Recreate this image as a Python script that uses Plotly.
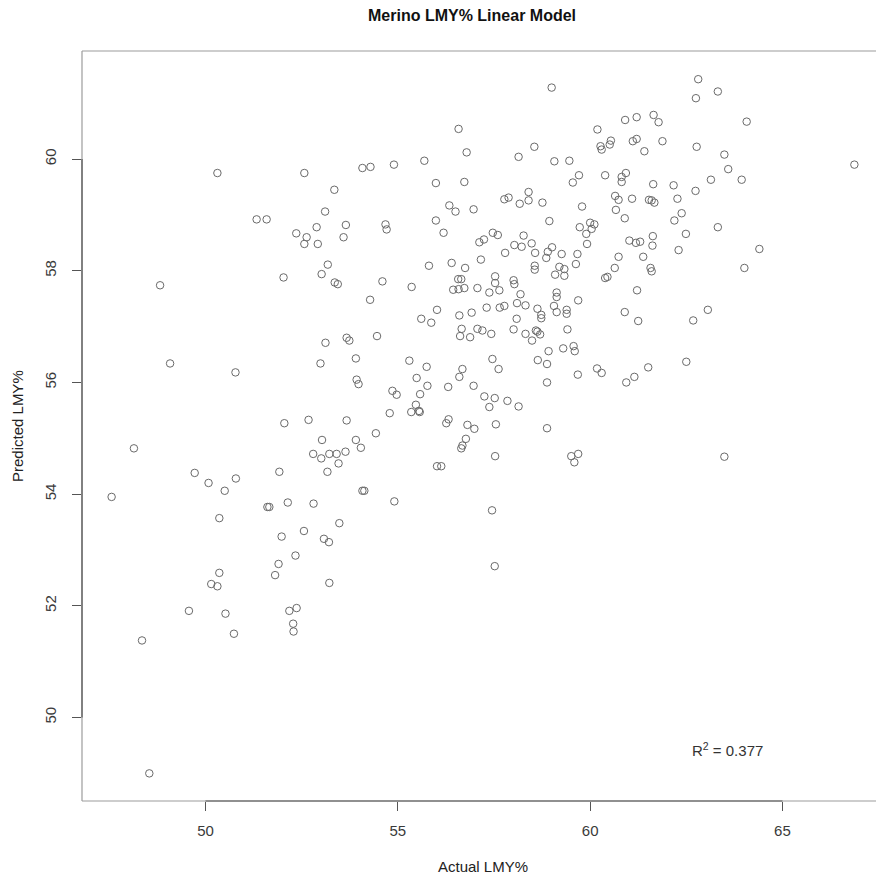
import plotly.graph_objects as go

# ---- data ----
actual_lmy = [
    50.31, 52.57, 53.35, 53.11, 51.33, 51.59, 52.89, 52.36, 52.63, 52.57,
    52.92, 53.18, 53.02, 52.03, 48.82, 53.36, 53.44, 53.65, 53.59, 59.00,
    56.58, 60.19, 58.55, 60.27, 60.30, 58.14, 59.07, 59.46, 54.08, 54.29,
    54.90, 55.69, 56.79, 59.71, 59.55, 55.99, 56.73, 57.77, 57.88, 58.40,
    58.40, 58.17, 58.76, 56.34, 56.50, 56.97, 59.79, 58.94, 55.99, 54.68,
    54.71, 56.19, 60.00, 60.11, 59.73, 60.04, 59.90, 59.92, 57.47, 57.60,
    57.12, 57.24, 58.27, 58.03, 58.22, 58.48, 58.57, 57.79, 57.16, 59.01,
    58.90, 58.86, 59.26, 59.67, 59.63, 55.81, 56.40, 56.75, 58.56, 58.56,
    59.20, 59.33, 59.09, 59.33, 54.60, 55.36, 56.57, 56.65, 57.53, 57.53,
    58.01, 58.03, 56.44, 56.58, 56.73, 57.07, 57.38, 57.64, 58.19, 59.13,
    59.13, 54.28, 59.69,
    62.81, 63.32, 62.75, 64.07, 60.91, 61.21, 61.65, 61.78, 60.54, 60.51,
    61.11, 61.21, 61.88, 61.41, 62.77, 63.49, 63.59, 66.87, 60.39, 60.93,
    60.82, 60.82, 61.64, 62.17, 63.14, 63.94, 62.74, 60.65, 60.74, 61.09,
    61.53, 61.60, 61.67, 62.27, 60.67, 60.90, 62.38, 62.19, 63.32, 62.49,
    61.63, 61.02, 61.19, 61.30, 61.62, 62.30, 64.40, 60.74, 61.38, 60.64,
    61.57, 61.60, 64.01, 60.39, 60.45, 61.22,
    53.12, 49.08, 52.99, 50.78, 52.05, 52.68, 53.67, 53.03, 52.80, 53.01,
    53.22, 53.41, 53.46, 53.17, 51.92, 48.14, 49.72, 50.08, 50.79, 50.50,
    47.56, 51.61, 51.66, 52.14, 52.81, 50.36, 53.48, 52.56, 51.98, 53.08, 53.21,
    56.02, 55.61, 55.87, 56.60, 56.92, 57.31, 57.65, 57.77, 58.10, 58.32,
    58.63, 58.73, 58.73, 59.06, 59.13, 59.39, 59.39, 58.09, 56.66, 56.62,
    56.88, 57.07, 57.20, 57.43, 58.01, 58.32, 58.59, 58.63, 58.70, 58.49,
    59.41, 53.67, 53.74, 54.46, 53.91, 55.30, 55.75, 57.46, 57.62, 56.68,
    56.60, 58.92, 59.30, 59.57, 59.60, 58.64, 58.88, 59.68, 60.18, 60.30,
    58.88, 53.93, 53.98, 55.49, 55.77, 56.31, 56.97, 54.86, 54.97, 55.58,
    57.25, 57.52, 57.85, 58.14, 57.38, 55.47, 55.35, 55.55, 55.57, 54.79,
    56.32, 56.26, 56.81, 56.99, 57.55, 58.88, 54.43, 53.91, 54.04, 53.64,
    56.77, 56.68, 56.65, 57.53, 59.51, 59.69, 59.59, 56.02, 56.13, 54.08,
    54.13, 54.91, 57.45,
    60.90, 61.25, 62.68, 63.06, 62.50, 61.51, 61.15, 60.94, 63.49,
    52.34, 51.90, 51.81, 50.36, 50.15, 50.31, 53.22, 49.57, 50.52, 52.18,
    52.37, 52.28, 52.29, 50.74, 48.35, 48.54,
    57.52,
]

predicted_lmy = [
    59.75, 59.75, 59.45, 59.06, 58.92, 58.92, 58.78, 58.67, 58.60, 58.48,
    58.48, 58.11, 57.94, 57.88, 57.74, 57.79, 57.76, 58.82, 58.60, 61.28,
    60.54, 60.53, 60.22, 60.23, 60.17, 60.04, 59.96, 59.97, 59.84, 59.86,
    59.90, 59.97, 60.12, 59.71, 59.58, 59.57, 59.59, 59.28, 59.31, 59.41,
    59.26, 59.20, 59.22, 59.17, 59.06, 59.10, 59.15, 58.89, 58.90, 58.83,
    58.74, 58.68, 58.86, 58.83, 58.78, 58.75, 58.66, 58.48, 58.68, 58.64,
    58.51, 58.56, 58.63, 58.46, 58.43, 58.49, 58.32, 58.32, 58.20, 58.42,
    58.34, 58.23, 58.30, 58.30, 58.12, 58.09, 58.14, 58.05, 58.09, 58.02,
    58.07, 58.03, 57.93, 57.91, 57.81, 57.71, 57.85, 57.85, 57.90, 57.78,
    57.83, 57.76, 57.66, 57.67, 57.69, 57.69, 57.61, 57.65, 57.58, 57.61,
    57.53, 57.48, 57.47,
    61.43, 61.21, 61.09, 60.67, 60.70, 60.75, 60.79, 60.66, 60.33, 60.26,
    60.32, 60.36, 60.32, 60.14, 60.22, 60.08, 59.82, 59.90, 59.71, 59.75,
    59.68, 59.59, 59.55, 59.53, 59.63, 59.63, 59.43, 59.34, 59.27, 59.29,
    59.27, 59.26, 59.22, 59.29, 59.09, 58.94, 59.03, 58.90, 58.78, 58.66,
    58.62, 58.54, 58.50, 58.52, 58.45, 58.37, 58.39, 58.25, 58.25, 58.05,
    58.05, 57.99, 58.05, 57.87, 57.89, 57.65,
    56.71, 56.34, 56.34, 56.18, 55.27, 55.33, 55.32, 54.97, 54.72, 54.64,
    54.72, 54.72, 54.55, 54.40, 54.40, 54.82, 54.38, 54.20, 54.28, 54.06,
    53.95, 53.77, 53.77, 53.85, 53.83, 53.57, 53.48, 53.34, 53.24, 53.20, 53.14,
    57.30, 57.14, 57.07, 57.20, 57.25, 57.34, 57.34, 57.37, 57.42, 57.38,
    57.32, 57.21, 57.15, 57.37, 57.26, 57.30, 57.23, 57.14, 56.96, 56.83,
    56.81, 56.96, 56.93, 56.87, 56.95, 56.87, 56.93, 56.91, 56.86, 56.75,
    56.95, 56.80, 56.75, 56.83, 56.43, 56.39, 56.28, 56.42, 56.24, 56.24,
    56.10, 56.56, 56.61, 56.65, 56.56, 56.40, 56.33, 56.14, 56.25, 56.17,
    56.00, 56.05, 55.97, 56.08, 55.94, 55.92, 55.94, 55.85, 55.78, 55.79,
    55.75, 55.72, 55.67, 55.57, 55.56, 55.60, 55.47, 55.49, 55.47, 55.45,
    55.34, 55.27, 55.24, 55.17, 55.25, 55.18, 55.09, 54.97, 54.83, 54.76,
    54.99, 54.87, 54.82, 54.68, 54.68, 54.72, 54.57, 54.50, 54.50, 54.06,
    54.06, 53.87, 53.71,
    57.26, 57.10, 57.11, 57.30, 56.37, 56.27, 56.10, 56.00, 54.67,
    52.90, 52.75, 52.55, 52.59, 52.39, 52.35, 52.41, 51.91, 51.86, 51.91,
    51.96, 51.68, 51.54, 51.50, 51.38, 49.00,
    52.71,
]

x_ticks = [50, 55, 60, 65]
y_ticks = [50, 52, 54, 56, 58, 60]
r2_text = "R<sup>2</sup> = 0.377"
r2_pos = (63.57, 49.43)

n = min(len(actual_lmy), len(predicted_lmy))
actual_lmy = actual_lmy[:n]
predicted_lmy = predicted_lmy[:n]

# ---- layout geometry ----
W, H = 876, 877
ML, MR, MT, MB = 82, 0, 51, 76
XLIM_FULL = (46.79, 67.64)      # full plotting range (right part cropped)
FULL_PLOT_W = 802.0
plot_w = W - ML - MR
x_range = [XLIM_FULL[0], XLIM_FULL[0] + (XLIM_FULL[1] - XLIM_FULL[0]) * plot_w / FULL_PLOT_W]
y_range = [48.505, 61.935]
plot_h = H - MT - MB
x_center = (XLIM_FULL[0] + XLIM_FULL[1]) / 2
y_center = (y_range[0] + y_range[1]) / 2
title_x_px = 472

FONT = "Liberation Sans, Arial, Helvetica, sans-serif"
BOX = "#9c9c9c"
AX = "#555555"

fig = go.Figure()
fig.add_trace(go.Scatter(
    x=actual_lmy, y=predicted_lmy, mode="markers",
    marker=dict(symbol="circle-open", size=7.5, color="#6a6a6a",
                line=dict(width=1, color="#6a6a6a")),
    showlegend=False, hoverinfo="x+y",
))

fig.update_layout(
    width=W, height=H,
    margin=dict(l=ML, r=MR, t=MT, b=MB, pad=0),
    paper_bgcolor="white", plot_bgcolor="white",
    font=dict(family=FONT, color="#333333", size=15),
    xaxis=dict(range=x_range, tickvals=x_ticks, ticktext=[str(v) for v in x_ticks],
               ticks="outside", ticklen=9, tickwidth=1, tickcolor=AX,
               showgrid=False, zeroline=False, showline=False,
               tickfont=dict(size=15, color="#3a3a3a"), ticklabelstandoff=7),
    yaxis=dict(range=y_range, tickvals=y_ticks, ticktext=[str(v) for v in y_ticks],
               ticks="outside", ticklen=9, tickwidth=1, tickcolor=AX,
               tickangle=-90,
               showgrid=False, zeroline=False, showline=False,
               tickfont=dict(size=15, color="#3a3a3a"), ticklabelstandoff=10),
    shapes=[
        # box (left, top, bottom) - right side lies outside the picture
        dict(type="line", xref="paper", yref="paper", x0=0, x1=0, y0=0, y1=1,
             line=dict(color=BOX, width=1.2)),
        dict(type="line", xref="paper", yref="paper", x0=0, x1=1, y0=1, y1=1,
             line=dict(color=BOX, width=1.2)),
        dict(type="line", xref="paper", yref="paper", x0=0, x1=1, y0=0, y1=0,
             line=dict(color=BOX, width=1.2)),
        # axis lines spanning the tick range
        dict(type="line", xref="x", yref="paper", x0=x_ticks[0], x1=x_ticks[-1], y0=0, y1=0,
             line=dict(color=AX, width=1.2)),
        dict(type="line", xref="paper", yref="y", x0=0, x1=0, y0=y_ticks[0], y1=y_ticks[-1],
             line=dict(color=AX, width=1.2)),
    ],
    annotations=[
        dict(text="<b>Merino LMY% Linear Model</b>", xref="paper", yref="paper",
             x=(title_x_px - ML) / plot_w, y=1 + (MT - 15.5) / plot_h,
             xanchor="center", yanchor="middle",
             showarrow=False, font=dict(size=16, color="#111111", family=FONT)),
        dict(text="Actual LMY%", xref="x", yref="paper",
             x=x_center, y=-(866 - (H - MB)) / plot_h, xanchor="center", yanchor="middle",
             showarrow=False, font=dict(size=15, color="#222222", family=FONT)),
        dict(text="Predicted LMY%", xref="paper", yref="y",
             x=-(ML - 17) / plot_w, y=y_center, xanchor="center", yanchor="middle",
             textangle=-90, showarrow=False, font=dict(size=15, color="#222222", family=FONT)),
        dict(text=r2_text, xref="x", yref="y", x=r2_pos[0], y=r2_pos[1],
             xanchor="center", yanchor="middle", showarrow=False,
             font=dict(size=15, color="#333333", family=FONT)),
    ],
)

fig.write_html("out.html")
